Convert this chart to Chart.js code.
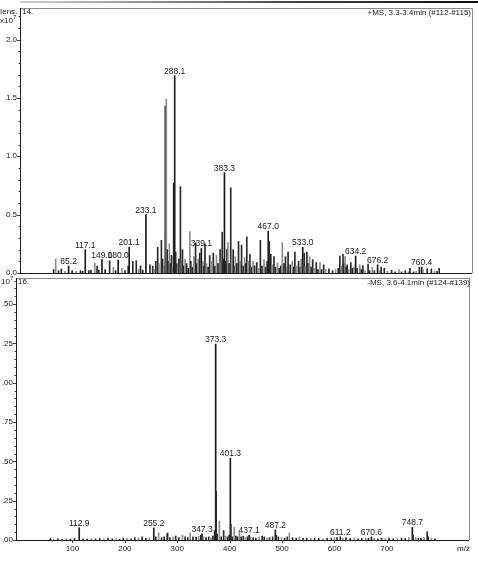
<!DOCTYPE html>
<html><head><meta charset="utf-8">
<script src="https://cdn.jsdelivr.net/npm/chart.js@4.4.1/dist/chart.umd.min.js"></script>
<style>
html,body{margin:0;padding:0;background:#fff;}
#wrap{position:relative;width:478px;height:566px;overflow:hidden;background:#fff;}
canvas{position:absolute;left:0;}
#c1{top:0;} #c2{top:270px;}
</style></head><body>
<div id="wrap"><canvas id="c1" width="478" height="285"></canvas><canvas id="c2" width="478" height="296"></canvas></div>
<script>
// ---- data (m/z, intensity x10^7) ----
const TOP_MZ = [56.5,60.5,66,71.4,78,85.2,92,100,108,112,117.1,124,128,135.3,139.7,143,149.0,155,163.7,170.9,175,180.0,187.2,193,199.2,201.1,208,214.6,219,222.8,227,233.1,240.8,246,249,252,255.6,258,262.7,265,268,270.1,271,272.1,274,276,278,280,282,284,286.1,287,288.1,290,292,294,296,299.1,301,303,305,308,311,314,317.1,319,322,325,328,330,333,336,339.1,342,344,346,349,352,355,358,362,365,368,371,375,377,379,381,383.3,386,388,390,392,395.3,397,400,402,404,407,410.2,413,416,419,422,424,426,429,432,435,438,441,445,448,452,455,459,462,465,467.0,469,472,475,478,481,485,488,491,494,497,500,503,505,509,513,516,518,521,525,528,530,533.0,536,538,541,543,546,549,552,555,559,562,566,569,573,577,583,590,596,601,604,607,610,612,614,616,618,621,625,628,631,634.2,637,642,645,648,652,658,661,666,670,676.2,680,683,689,695,703,710,717,722,729,735,738,745,750,756,760.4,763,771,779,785,790,794];
const TOP_INT = [0.03,0.12,0.02,0.035,0.015,0.06,0.02,0.015,0.02,0.015,0.2,0.02,0.025,0.085,0.06,0.025,0.115,0.03,0.105,0.05,0.02,0.11,0.04,0.02,0.06,0.22,0.1,0.105,0.03,0.06,0.025,0.5,0.07,0.06,0.03,0.1,0.22,0.08,0.28,0.12,0.06,1.43,0.3,1.49,0.2,0.1,0.25,0.08,0.15,0.05,0.77,0.3,1.69,0.18,0.08,0.05,0.12,0.74,0.1,0.2,0.06,0.12,0.08,0.04,0.355,0.1,0.05,0.14,0.26,0.08,0.12,0.17,0.21,0.1,0.06,0.25,0.08,0.05,0.15,0.1,0.17,0.06,0.15,0.08,0.2,0.1,0.35,0.12,0.86,0.1,0.2,0.26,0.08,0.73,0.12,0.2,0.06,0.14,0.08,0.27,0.1,0.24,0.06,0.13,0.08,0.31,0.1,0.16,0.05,0.1,0.06,0.09,0.04,0.28,0.06,0.115,0.05,0.1,0.36,0.27,0.16,0.07,0.14,0.05,0.086,0.04,0.06,0.26,0.08,0.14,0.05,0.18,0.07,0.1,0.05,0.18,0.06,0.1,0.05,0.12,0.22,0.17,0.06,0.18,0.08,0.14,0.05,0.115,0.04,0.09,0.03,0.09,0.03,0.07,0.03,0.035,0.02,0.03,0.04,0.145,0.06,0.16,0.08,0.14,0.05,0.07,0.03,0.09,0.04,0.05,0.145,0.04,0.07,0.03,0.063,0.02,0.077,0.02,0.05,0.02,0.07,0.02,0.05,0.04,0.015,0.023,0.01,0.03,0.01,0.02,0.01,0.04,0.01,0.015,0.05,0.05,0.03,0.035,0.035,0.015,0.015,0.04];
const TOP_PEAK_LABELS = [85.2,117.1,149.0,180.0,201.1,233.1,288.1,339.1,383.3,467.0,533.0,634.2,676.2,760.4];

const BOT_MZ = [58,64,72,80,88,96,104,112.9,120,128,136,144,152,160,168,176,184,190,197,204,212,219,226,233,240,247,255.2,259,264.4,270,275,280,281.5,286,292,297,303,310,315,320,324.6,330,336,341,345,347.3,350,355,360,364,368,371.3,373.3,374.3,376,380.3,384,388.5,392,396,399,401.3,402.3,405,408.8,412,415,418.6,422,426,430,434,437.1,440,445,450,456,462,466,471,476,482,487.2,489,493,499,505,510,514,520,527,533,540,547,555,562,570,578,586,594,600,605,611.2,616,622,630,638,645,652,660,665,670.6,676,683,690,697,704,712,720,728,735,742,748.7,750,755,760,765,771,777,779,785,792];
const BOT_INT = [0.01,0.006,0.008,0.005,0.008,0.006,0.01,0.078,0.008,0.006,0.01,0.007,0.01,0.006,0.012,0.008,0.01,0.006,0.012,0.01,0.008,0.015,0.012,0.02,0.01,0.015,0.076,0.02,0.046,0.015,0.02,0.036,0.045,0.015,0.02,0.025,0.015,0.03,0.02,0.015,0.045,0.02,0.018,0.025,0.03,0.04,0.02,0.015,0.02,0.015,0.025,0.06,1.246,0.31,0.04,0.12,0.02,0.06,0.025,0.02,0.03,0.52,0.1,0.02,0.08,0.025,0.02,0.05,0.02,0.025,0.015,0.02,0.03,0.02,0.015,0.012,0.02,0.025,0.02,0.012,0.015,0.02,0.064,0.03,0.02,0.015,0.012,0.02,0.045,0.015,0.012,0.02,0.01,0.012,0.01,0.012,0.01,0.008,0.01,0.012,0.015,0.015,0.02,0.012,0.015,0.01,0.012,0.008,0.01,0.012,0.01,0.02,0.01,0.008,0.012,0.01,0.012,0.008,0.01,0.012,0.01,0.015,0.08,0.03,0.015,0.01,0.01,0.015,0.053,0.02,0.01,0.008];
const BOT_PEAK_LABELS = [112.9,255.2,347.3,373.3,401.3,437.1,487.2,611.2,670.6,748.7];

const TOP_Y_TICKS = [0,0.5,1.0,1.5,2.0];
const TOP_Y_TICK_LABELS = ["0.0","0.5","1.0","1.5","2.0"];
const BOT_Y_TICKS = [0,0.25,0.5,0.75,1.0,1.25,1.5];
const BOT_Y_TICK_LABELS = [".00",".25",".50",".75",".00",".25",".50"];
const X_TICKS = [100,200,300,400,500,600,700];
const X_TICK_LABELS = ["100","200","300","400","500","600","700"];

const X_MIN = 54, X_MAX = 795;
const FONT = '"Liberation Sans", Arial, sans-serif';

const spectrumPlugin = {
  id: 'spectrum',
  afterDraw(chart, args, o) {
    const {ctx, chartArea: a, scales} = chart;
    const ys = scales.y, xs = scales.x;
    ctx.save();
    ctx.strokeStyle = '#8a8a8a'; ctx.lineWidth = 1;
    ctx.beginPath();
    ctx.moveTo(a.left, Math.round(a.top) + 0.5); ctx.lineTo(a.right + 0.5, Math.round(a.top) + 0.5);
    ctx.lineTo(Math.round(a.right) + 0.5, a.bottom);
    ctx.stroke();
    ctx.strokeStyle = '#1e1e1e';
    ctx.beginPath();
    ctx.moveTo(Math.round(a.left) + 0.5, a.top); ctx.lineTo(Math.round(a.left) + 0.5, a.bottom + 1);
    ctx.moveTo(a.left, Math.round(a.bottom) + 0.5); ctx.lineTo(a.right, Math.round(a.bottom) + 0.5);
    ctx.stroke();
    ctx.strokeStyle = '#444';
    ctx.beginPath();
    for (let v = 0; v <= ys.max + 1e-9; v += o.yMinor) {
      const major = Math.abs(v / o.yMajor - Math.round(v / o.yMajor)) < 1e-6;
      const py = Math.round(ys.getPixelForValue(v)) + 0.5;
      ctx.moveTo(a.left, py); ctx.lineTo(a.left - (major ? 3 : 1.5), py);
    }
    ctx.stroke();
    if (o.xTicks) {
      ctx.beginPath();
      for (let v = 60; v <= X_MAX; v += 20) {
        const major = v % 100 === 0;
        const px = Math.round(xs.getPixelForValue(v)) + 0.5;
        ctx.moveTo(px, a.bottom); ctx.lineTo(px, a.bottom + (major ? 3 : 1.5));
      }
      ctx.stroke();
    }
    const ds = chart.data.datasets[0].data;
    ctx.fillStyle = '#1a1a1a';
    ctx.font = '8.5px ' + FONT;
    ctx.textAlign = 'center'; ctx.textBaseline = 'alphabetic';
    o.peakLabels.forEach(m => {
      const p = ds.find(d => Math.abs(d.x - m) < 1e-6);
      if (!p) return;
      const px = xs.getPixelForValue(p.x), py = ys.getPixelForValue(p.y);
      ctx.fillText(p.x.toFixed(1), px, py - o.labelGap);
    });
    o.texts.forEach(t => {
      ctx.font = (t.size || 8) + 'px ' + FONT;
      ctx.textAlign = t.align || 'left';
      ctx.textBaseline = 'middle';
      ctx.fillStyle = '#1a1a1a';
      ctx.fillText(t.t, t.x, t.y);
    });
    if (o.edge) {
      const g = ctx.createLinearGradient(20, 0, 478, 0);
      g.addColorStop(0, 'rgba(60,60,60,0.25)'); g.addColorStop(0.6, 'rgba(20,20,20,0.8)'); g.addColorStop(1, 'rgba(0,0,0,0.95)');
      ctx.fillStyle = g; ctx.fillRect(20, 1, 458, 2);
    }
    ctx.restore();
  }
};

function makeSpectrum(canvas, mz, inten, labeled, c) {
  const pts = mz.map((m, i) => ({x: m, y: inten[i]}));
  return new Chart(canvas, {
    type: 'bar',
    data: { datasets: [{
      data: pts,
      barThickness: 1,
      borderWidth: 0,
      backgroundColor: ctx => {
        const p = ctx.raw;
        if (p && labeled.includes(p.x)) return '#1a1a1a';
        return ctx.dataIndex % 3 === 1 ? '#8c8c8c' : '#2a2a2a';
      }
    }]},
    options: {
      responsive: false, animation: false, devicePixelRatio: 1,
      layout: { padding: c.padding },
      plugins: { legend: {display: false}, tooltip: {enabled: false}, spectrum: c.plugin },
      scales: {
        x: {
          type: 'linear', min: X_MIN, max: X_MAX, display: c.showX,
          grid: {display: false, drawTicks: false}, border: {display: false},
          afterFit: s => { s.height = c.showX ? 26 : 0; },
          afterBuildTicks: s => { s.ticks = X_TICKS.map(v => ({value: v})); },
          ticks: { autoSkip: false, maxRotation: 0, padding: 4, color: '#222',
                   font: {family: FONT, size: 8}, callback: (v, i) => X_TICK_LABELS[i] }
        },
        y: {
          min: 0, max: c.yMax,
          grid: {display: false, drawTicks: false}, border: {display: false},
          afterFit: s => { s.width = c.axisW; },
          afterBuildTicks: s => { s.ticks = c.yTicks.map(v => ({value: v})); },
          ticks: { autoSkip: false, padding: 3, color: '#222',
                   font: {family: FONT, size: 8}, callback: (v, i) => c.yLabels[i] }
        }
      }
    },
    plugins: [spectrumPlugin]
  });
}

makeSpectrum(document.getElementById('c1'), TOP_MZ, TOP_INT, TOP_PEAK_LABELS, {
  padding: {top: 8, bottom: 12, left: 0, right: 6},
  showX: false, yMax: 2.27, axisW: 20,
  yTicks: TOP_Y_TICKS, yLabels: TOP_Y_TICK_LABELS,
  plugin: {
    yMinor: 0.1, yMajor: 0.5, xTicks: false, labelGap: 2, edge: true,
    peakLabels: TOP_PEAK_LABELS,
    texts: [
      {t: 'Iens.', x: 0, y: 12},
      {t: 'x10', x: 0, y: 21},
      {t: '7', x: 13, y: 17, size: 6},
      {t: '14.', x: 22, y: 12},
      {t: '+MS, 3.3-3.4min (#112-#115)', x: 471, y: 13, align: 'right'}
    ]
  }
});

makeSpectrum(document.getElementById('c2'), BOT_MZ, BOT_INT, BOT_PEAK_LABELS, {
  padding: {top: 8, bottom: 0, left: 0, right: 9},
  showX: true, yMax: 1.666, axisW: 16,
  yTicks: BOT_Y_TICKS, yLabels: BOT_Y_TICK_LABELS,
  plugin: {
    yMinor: 0.05, yMajor: 0.25, xTicks: true, labelGap: 2, edge: false,
    peakLabels: BOT_PEAK_LABELS,
    texts: [
      {t: '10', x: 1, y: 12},
      {t: '7', x: 10, y: 8, size: 6},
      {t: '16.', x: 18, y: 12},
      {t: '-MS, 3.6-4.1min (#124-#139)', x: 470, y: 13, align: 'right'},
      {t: 'm/z', x: 470, y: 279, align: 'right'}
    ]
  }
});
</script>
</body></html>
